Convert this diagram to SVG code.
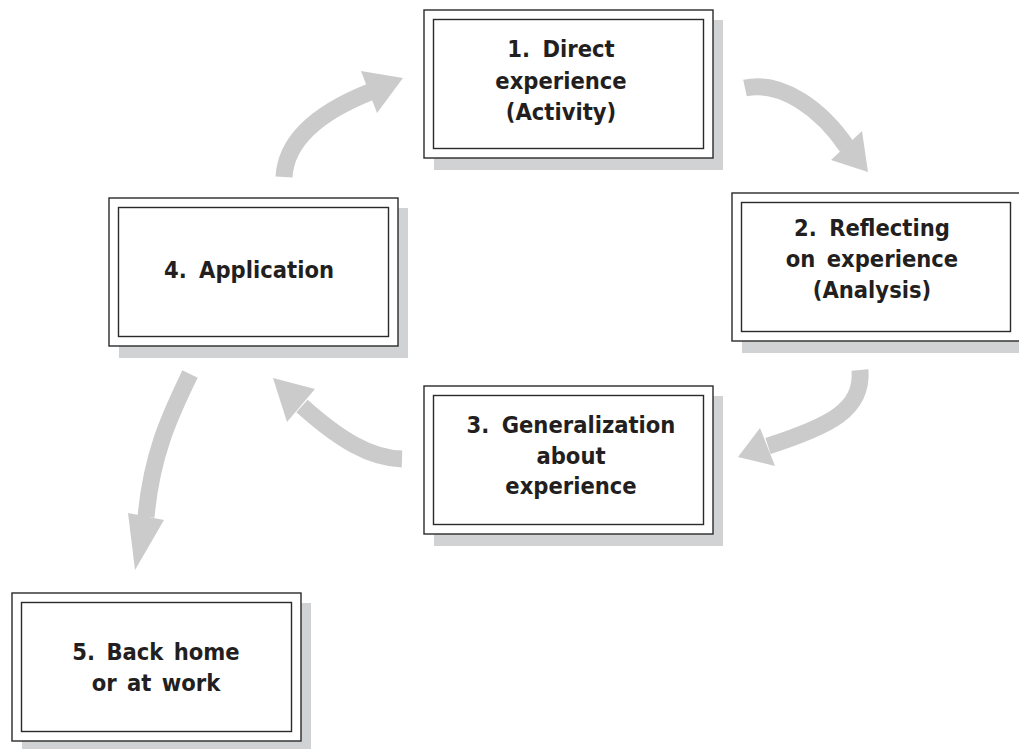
<svg xmlns="http://www.w3.org/2000/svg" width="1019" height="749" viewBox="0 0 1019 749">
<style>
.shadow{fill:#d1d2d4;stroke:none}
.outer{fill:#fff;stroke:#2a2a2a;stroke-width:1.4}
.inner{fill:#fff;stroke:#2a2a2a;stroke-width:1.4}
.lbl{font-family:"DejaVu Sans Condensed","DejaVu Sans",sans-serif;font-stretch:condensed;font-weight:bold;font-size:23.5px;fill:#231f20;text-anchor:middle}
.shaft{fill:none;stroke:#cbcbcb;stroke-width:17;stroke-linecap:butt}
.head{fill:#cbcbcb;stroke:none}
</style>
<defs>
<filter id="soft" x="-10%" y="-10%" width="120%" height="120%"><feGaussianBlur stdDeviation="0.7"/></filter>
</defs>
<rect width="1019" height="749" fill="#fff"/>
<g id="connectors" filter="url(#soft)">
<g id="arrow-4-1"><path class="shaft" d="M284,177 C286,140 320,112 370,92"/><polygon class="head" points="403,78 361,71 377,113"/></g>
<g id="arrow-1-2"><path class="shaft" d="M745,88 C782,80 822,110 847,147"/><polygon class="head" points="868,172 831,160 862,131"/></g>
<g id="arrow-2-3"><path class="shaft" d="M860,370 C863,410 830,426 768,446"/><polygon class="head" points="738,457 760,428 775,466"/></g>
<g id="arrow-3-4"><path class="shaft" d="M402,459 C370,458 340,440 302,406"/><polygon class="head" points="273,378 315,389 287,422"/></g>
<g id="arrow-4-5"><path class="shaft" d="M190,374 C173,410 152,450 146,517"/><polygon class="head" points="135,570 128,513 164,520"/></g>
</g>
<g id="node1">
<rect class="shadow" x="434" y="20" width="289" height="150"/>
<rect class="outer" x="424" y="10" width="289" height="148"/>
<rect class="inner" x="433.5" y="19.5" width="270" height="129"/>
<text class="lbl" x="561" y="57">1.<tspan dx="5"> Direct</tspan></text>
<text class="lbl" x="561" y="89">experience</text>
<text class="lbl" x="561" y="120">(Activity)</text>
</g>
<g id="node2">
<rect class="shadow" x="742" y="203" width="289" height="150"/>
<rect class="outer" x="732" y="193" width="289" height="148"/>
<rect class="inner" x="741.5" y="202.5" width="269" height="129"/>
<text class="lbl" x="872" y="236">2.<tspan dx="5"> Reflecting</tspan></text>
<text class="lbl" x="872" y="267">on<tspan dx="4"> experience</tspan></text>
<text class="lbl" x="872" y="298">(Analysis)</text>
</g>
<g id="node3">
<rect class="shadow" x="434" y="396" width="289" height="150"/>
<rect class="outer" x="424" y="386" width="289" height="148"/>
<rect class="inner" x="433.5" y="395.5" width="270" height="129"/>
<text class="lbl" x="571" y="433">3.<tspan dx="5"> Generalization</tspan></text>
<text class="lbl" x="571" y="464">about</text>
<text class="lbl" x="571" y="494">experience</text>
</g>
<g id="node4">
<rect class="shadow" x="119" y="208" width="289" height="150"/>
<rect class="outer" x="109" y="198" width="289" height="148"/>
<rect class="inner" x="118.5" y="207.5" width="270" height="129"/>
<text class="lbl" x="249" y="278">4.<tspan dx="5"> Application</tspan></text>
</g>
<g id="node5">
<rect class="shadow" x="22" y="603" width="289" height="150"/>
<rect class="outer" x="12" y="593" width="289" height="148"/>
<rect class="inner" x="21.5" y="602.5" width="270" height="129"/>
<text class="lbl" x="156" y="660">5.<tspan dx="4"> Back</tspan><tspan dx="3"> home</tspan></text>
<text class="lbl" x="156" y="691">or<tspan dx="3"> at</tspan><tspan dx="3"> work</tspan></text>
</g>
</svg>
